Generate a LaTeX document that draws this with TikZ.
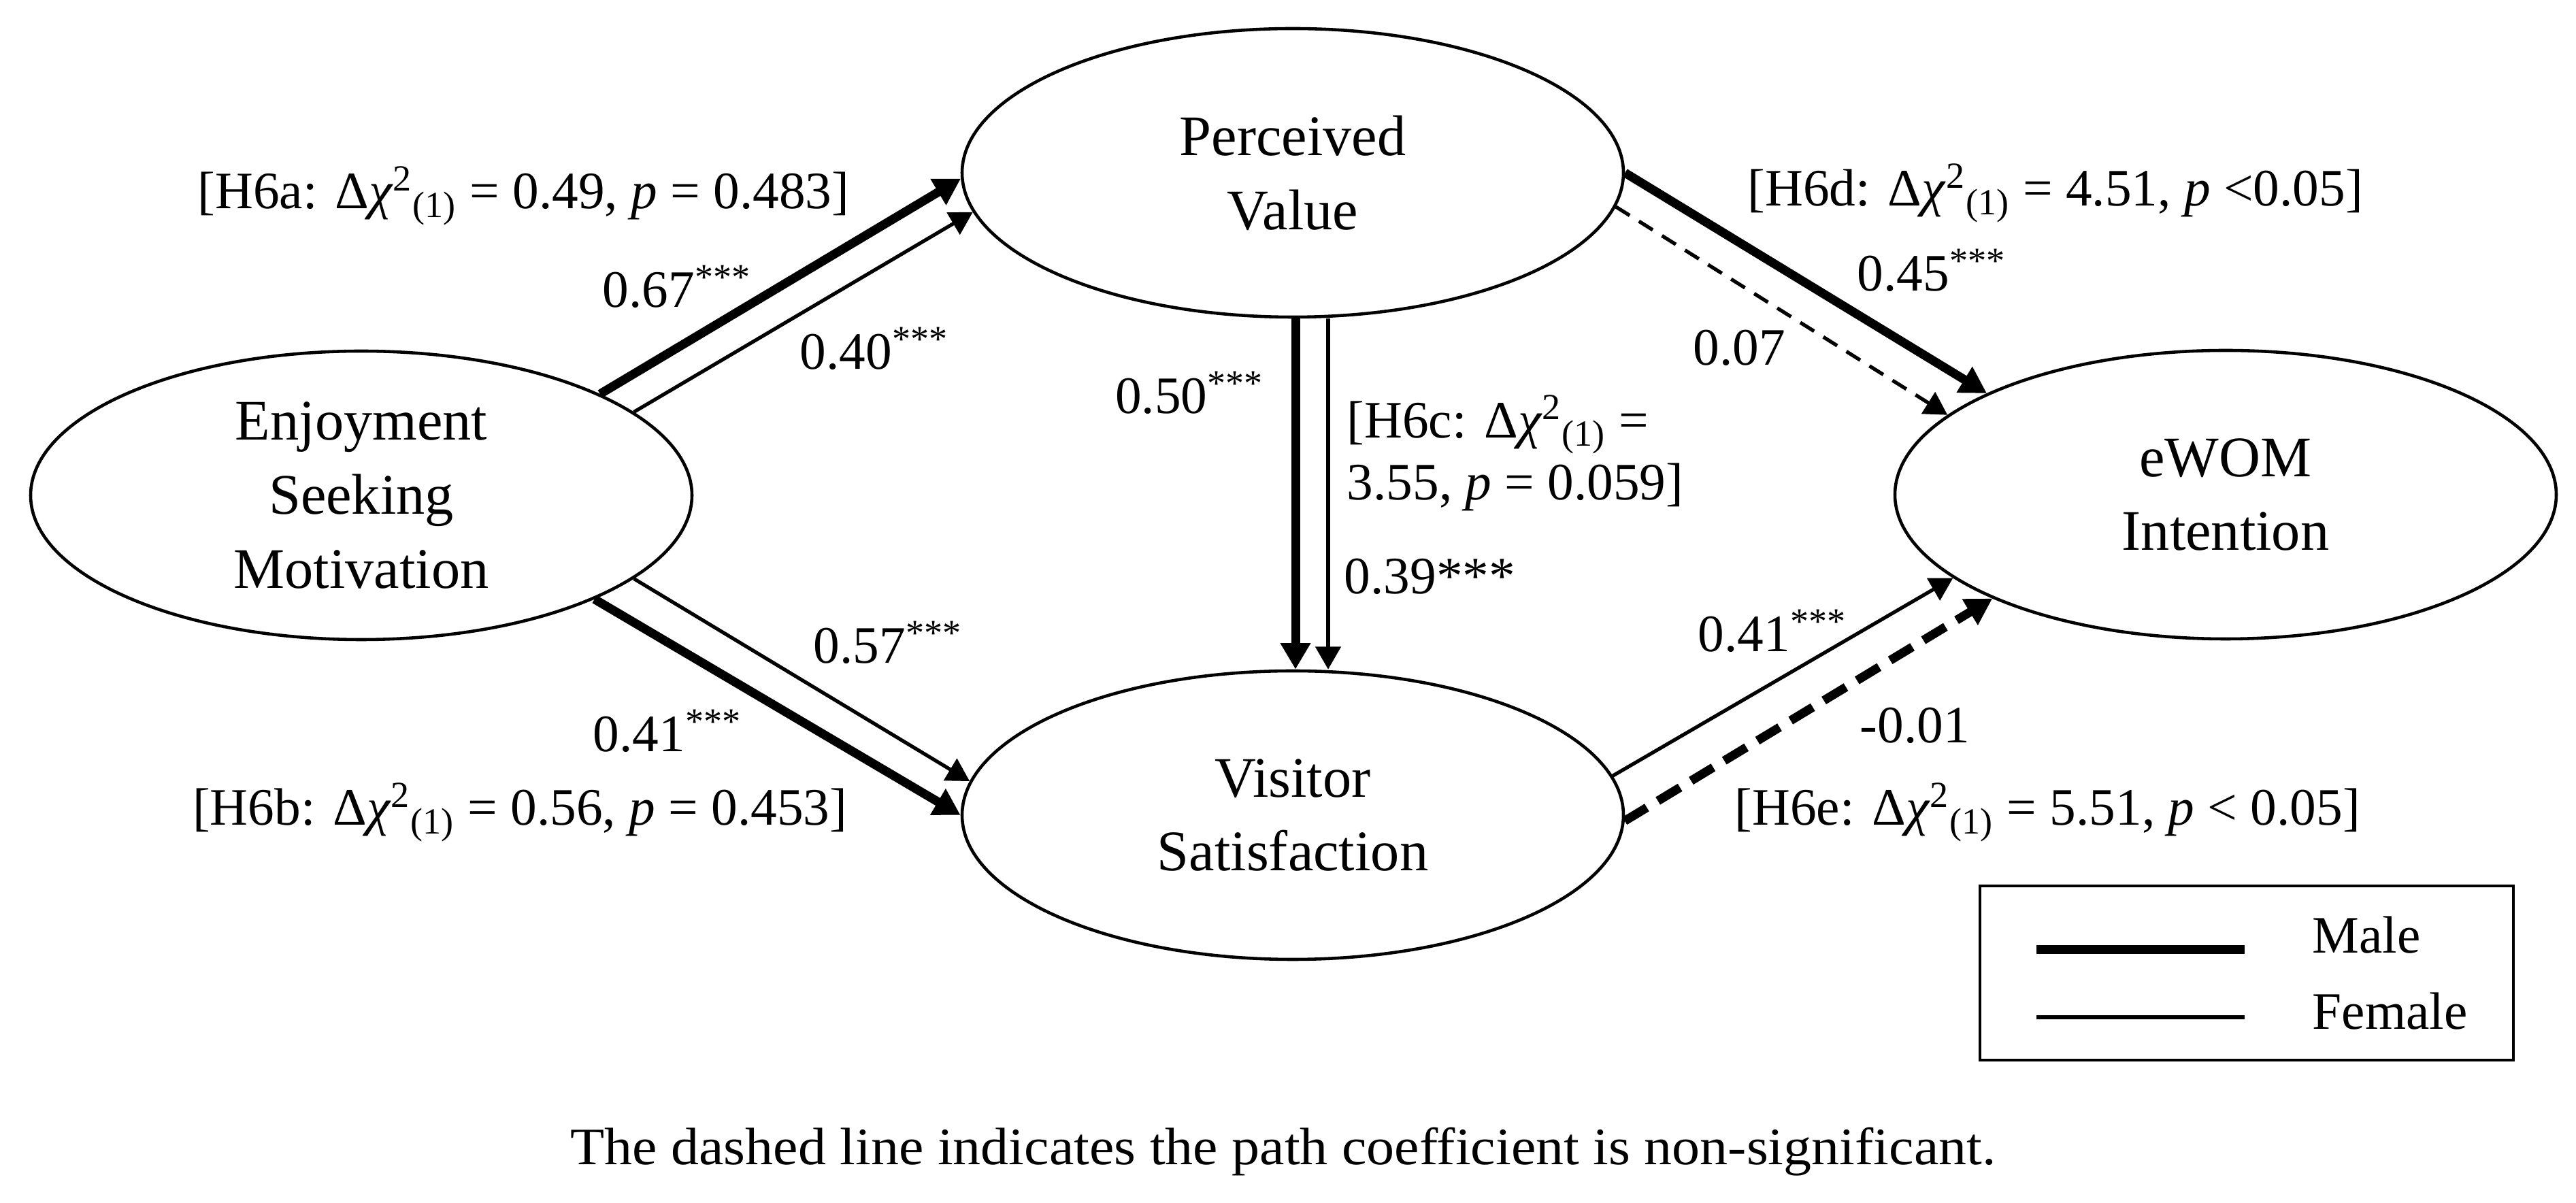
\documentclass[tikz,border=0pt]{standalone}
\usepackage{fontspec}
\setmainfont{Liberation Serif}
\newfontfamily\notefont[FakeStretch=1.06]{Liberation Serif}
\usepackage{tikz}
\usetikzlibrary{arrows.meta,shapes.geometric}

\newcommand{\dchi}{Δ\textit{χ}\textsuperscript{2}\textsubscript{(1)}}

\begin{document}
\begin{tikzpicture}[
	latent/.style={ellipse,draw,line width=1.3pt,minimum width=9.72cm,minimum height=4.24cm,
		inner sep=0pt,align=center,font=\fontsize{24}{31}\selectfont},
	lbl/.style={inner sep=0pt,anchor=base west,font=\fontsize{22}{26}\selectfont},
	male/.style={line width=3.7pt,-{Triangle[width=12pt,length=11pt]}},
	female/.style={line width=1.5pt,-{Triangle[width=10.5pt,length=9.5pt]}},
	maledash/.style={male,dash pattern=on 0.38cm off 0.19cm},
	femaledash/.style={female,dash pattern=on 0.24cm off 0.16cm}]
	\useasboundingbox (0,0) rectangle (37.86,-17.68);

	% constructs
	\node[latent] (E) at (5.31,-7.28) {Enjoyment\\Seeking\\Motivation};
	\node[latent] (P) at (19.00,-2.54) {Perceived\\Value};
	\node[latent] (V) at (19.00,-11.98) {Visitor\\Satisfaction};
	\node[latent] (W) at (32.71,-7.27) {eWOM\\Intention};

	% paths (male / female)
	\foreach \a/\b/\s in
	{E.23/P.181/male, E.17/P.187/female, E.336/V.180/male, E.343/V.174/female,
	 P.0/W.157/male, P.354/W.164/femaledash, V.7/W.197/female, V.359/W.204/maledash}{
		\draw[\s] (\a) -- (\b);
	}
	\draw[male] ([xshift=0.04cm]P.south) -- ([xshift=0.04cm]V.north);
	\draw[female] ([xshift=0.52cm]P.south) -- ([xshift=0.52cm]V.north);

	% coefficients
	\node[lbl] (c67) at (8.85,-4.52) {0.67\textsuperscript{***}};
	\node[lbl] (c40) at (11.75,-5.43) {0.40\textsuperscript{***}};
	\node[lbl] (c57) at (11.95,-9.75) {0.57\textsuperscript{***}};
	\node[lbl] (c41m) at (8.71,-11.05) {0.41\textsuperscript{***}};
	\node[lbl,anchor=base east] (c50) at (18.58,-6.08) {0.50\textsuperscript{***}};
	\node[lbl] (c39) at (19.75,-8.73) {0.39***};
	\node[lbl] (c07) at (24.88,-5.37) {0.07};
	\node[lbl] (c45) at (27.29,-4.28) {0.45\textsuperscript{***}};
	\node[lbl] (c41f) at (24.95,-9.58) {0.41\textsuperscript{***}};
	\node[lbl] (c01) at (27.33,-10.92) {-0.01};

	% chi-square differences
	\node[lbl,anchor=base east] (h6a) at (12.49,-3.07) {[H6a: \dchi{} = 0.49, \textit{p} = 0.483]};
	\node[lbl,anchor=base east] (h6b) at (12.46,-12.13) {[H6b: \dchi{} = 0.56, \textit{p} = 0.453]};
	\node[lbl,anchor=west,align=left] (h6c) at (19.79,-6.66) {[H6c: \dchi{} =\\3.55, \textit{p} = 0.059]};
	\node[lbl] (h6d) at (25.68,-3.03) {[H6d: \dchi{} = 4.51, \textit{p} <0.05]};
	\node[lbl] (h6e) at (25.49,-12.13) {[H6e: \dchi{} = 5.51, \textit{p} < 0.05]};

	% legend
	\draw[line width=1.3pt] (29.10,-13.02) rectangle (36.94,-15.58);
	\coordinate (m0) at (29.93,-13.96);
	\coordinate (m1) at (32.99,-13.96);
	\coordinate (f0) at (29.93,-14.95);
	\coordinate (f1) at (32.99,-14.95);
	\draw[line width=3.7pt] (m0) -- (m1);
	\draw[line width=1.5pt] (f0) -- (f1);
	\node[lbl] (male) at (33.98,-14.01) {Male};
	\node[lbl] (female) at (33.98,-15.13) {Female};

	% note
	\node[lbl,anchor=base,font=\notefont\fontsize{22}{26}\selectfont] (note) at (18.86,-17.12)
		{The dashed line indicates the path coefficient is non-significant.};
\end{tikzpicture}
\end{document}
